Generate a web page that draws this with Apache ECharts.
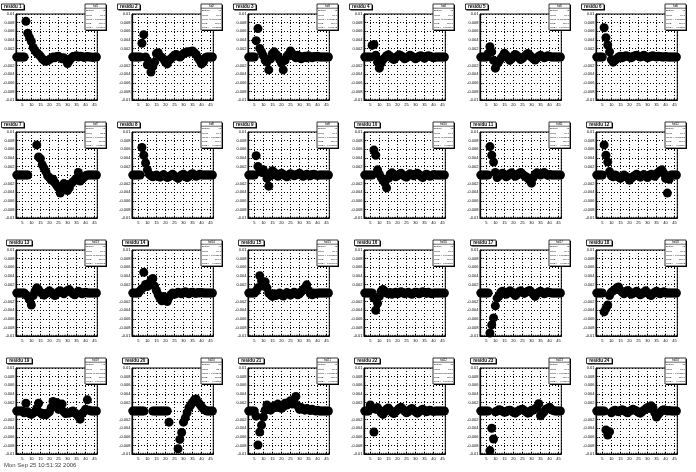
<!DOCTYPE html>
<html><head><meta charset="utf-8">
<script src="https://cdn.jsdelivr.net/npm/echarts@6/dist/echarts.min.js"></script>
<style>html,body{margin:0;padding:0;background:#fff}#c{width:696px;height:472px}</style>
</head><body><div id="c"></div>
<script>
// x positions shared by all pads
const xValues = [2,3,4,5,6,7,8,9,10,11,12,13,14,15,16,17,18,19,20,21,22,23,24,25,26,27,28,29,30,31,32,33,34,35,36,37,38,39,40,41,42,43,44,45,46];
const xTickLabels = ['5','10','15','20','25','30','35','40','45'];
const yTickLabels = ['0.01','0.008','0.006','0.004','0.002','0','-0.002','-0.004','-0.006','-0.008','-0.01'];

const residu1 = [0,0,0,0,0,0.0083,0.0055,0.0045,0.0036,0.0022,0.0015,0.001,0.0006,0.0002,-0.0004,-0.0008,-0.001,-0.0009,-0.0006,-0.0003,0,-0.0002,0.0001,0.0002,-0.0001,-0.0004,-0.0002,-0.0006,-0.0015,-0.0009,-0.0003,0.0001,0.0002,0.0003,0,0.0002,0.0001,-0.0001,0,0.0001,0,0,-0.0001,0,0];
const residu2 = [0,0,0,0,0,0.0032,0.0052,0,-0.0018,-0.0012,-0.0035,-0.0022,-0.0012,0.0008,0.001,0.0002,-0.0001,-0.0005,-0.0012,-0.0016,-0.0008,-0.0004,0,0.0004,0.0006,0.0002,0,0.0004,0.0008,0.001,0.0012,0.0011,0.0013,0.0014,0.001,0.0006,-0.0002,-0.0008,-0.0016,-0.0012,-0.0002,0,0,0,0];
const residu3 = [0,0,0,0,0.0038,0.0066,0.002,0.0012,0.0003,-0.0008,-0.0012,-0.003,-0.0004,0.0008,0.0012,0.0006,0.0002,-0.0006,-0.0014,-0.003,-0.0008,0.0002,0.0006,0.0014,0.0008,0.0002,-0.0002,0.0004,0.0002,-0.0004,0,0.0002,-0.0002,0.0003,0,-0.0002,0.0001,0,0.0002,0,0,0,0,0,0];
const residu4 = [0,0,0,0,0.0027,0.0029,0.0004,-0.0012,-0.0026,-0.0014,-0.0006,-0.0002,0.0003,0.0005,0.0002,-0.0003,-0.0006,-0.0002,0.0002,0.0005,0.0003,0,-0.0004,-0.0002,0.0001,0.0004,0.0002,-0.0001,-0.0004,-0.0002,0.0002,0.0003,0,-0.0003,0.0001,0.0003,0.0002,0,-0.0002,0,0,0,0,0,0];
const residu5 = [0,0,0,0,0.0008,0.0024,0.0012,-0.0008,-0.0026,-0.0016,-0.001,-0.0004,0.0002,0.0009,0.0004,-0.0002,-0.0008,-0.0004,0.0002,0.0006,0.0003,-0.0002,-0.0006,-0.0003,0.0001,0.0005,0.0008,0.0004,0,-0.0004,-0.0007,-0.0003,0.0002,0.0004,0.0001,-0.0002,0,0.0003,0.0001,0,0,0,0,0,0];
const residu6 = [0,0,0,0,0.0068,0.0045,0.0028,0.0012,-0.0006,-0.0012,-0.0008,-0.0004,0,0.0002,-0.0002,0.0001,0.0003,0.0002,0,-0.0002,0.0001,0.0003,0.0004,0.0002,0,0.0002,0.0004,0.0001,-0.0002,0,0.0002,0.0003,0.0001,0,0.0002,0.0001,0,0,0.0001,0,0,0,0,0,0];
const residu7 = [0,0,0,0,0,0,0,null,null,null,null,0.007,0.0042,0.0038,0.0024,0.0016,0.0008,-0.0002,-0.0006,-0.0012,-0.001,-0.0018,-0.0024,-0.003,-0.0042,-0.0028,-0.002,-0.0026,-0.0036,-0.003,-0.002,-0.0016,-0.0012,-0.0008,0.0006,-0.0014,-0.001,-0.0006,-0.0002,0,0,0,0,0,0];
const residu8 = [0,0,0,0,0,0.0064,0.0046,0.0028,0.0012,0.0002,-0.0002,-0.0004,-0.0002,0,-0.0003,-0.0005,-0.0002,0.0001,-0.0003,-0.0006,-0.0004,-0.0001,0.0002,-0.0002,-0.0005,-0.0008,-0.0004,0,0.0002,-0.0002,-0.0006,-0.0003,0.0001,0.0003,0,-0.0003,-0.0001,0.0002,0,0,0,0,0,0,0];
const residu9 = [0,0,0,0,0.0045,0.002,0.0008,0.0006,0.0012,0.0004,-0.0008,-0.0026,-0.0002,0.001,0.0006,0.0002,-0.0003,0,0.0004,0.0002,-0.0002,-0.0004,0,0.0003,0.0001,-0.0002,0,0.0002,0.0004,0.0001,-0.0003,-0.0001,0.0002,0,-0.0002,0.0001,0.0002,0,-0.0001,0,0,0,0,0,0];
const residu10 = [0,0,0,0,0,0.0058,0.0046,0.0012,0.0002,-0.0006,-0.0012,-0.0018,-0.003,-0.0008,0.0002,0.0005,0.0001,-0.0004,-0.0002,0.0002,0.0004,0,-0.0003,-0.0005,-0.0001,0.0003,0.0001,-0.0002,0.0002,0.0004,0.0001,-0.0003,-0.0006,-0.0002,0.0002,0,-0.0003,-0.0001,0.0001,0,0,0,0,0,0];
const residu11 = [0,0,0,0,0,0.0066,0.0046,0.003,0.0006,-0.0006,-0.0002,0.0002,0.0004,0,-0.0004,-0.0002,0.0003,0.0005,0.0001,-0.0003,0,0.0003,0.0006,0.0002,-0.0002,-0.0004,-0.0008,-0.0012,-0.0019,-0.0006,0.0002,0.0005,0.0003,0,0.0003,0.0006,0.0002,-0.0001,0.0001,0,0,0,0,0,0];
const residu12 = [0,0,0,0,0.007,0.0046,0.003,0.0008,-0.0002,-0.0004,0,-0.0002,-0.0005,-0.0008,-0.0004,0,-0.0003,-0.0006,-0.0012,-0.0008,-0.0004,-0.0001,0.0002,-0.0002,-0.0005,-0.0002,0.0001,-0.0003,-0.0006,-0.0002,0.0002,0,-0.0003,0.0002,0.0006,0.001,0.0012,0.0004,-0.0008,-0.0042,-0.001,0,0,0,0];
const residu13 = [0,0,0,0,0,-0.0004,-0.0008,-0.0016,-0.0028,-0.0006,0.0004,0.0012,0.0008,0.0002,-0.0002,-0.0005,-0.0002,0.0002,0.0005,0.0002,-0.0003,-0.0006,-0.0002,0.0003,0.0005,0.0001,-0.0002,0.0002,0.0006,0.0008,0.0003,-0.0002,-0.0004,0,0.0004,0.0002,-0.0002,0,0.0002,0,0,0,0,0,0];
const residu14 = [0,0,0,0,0.0005,0.001,0.0048,0.002,0.0015,0.0022,0.003,0.0034,0.0016,0.0006,-0.0004,-0.0012,-0.0018,-0.0008,-0.0014,-0.002,-0.001,-0.0004,0,-0.0003,-0.0001,0.0002,0,-0.0002,0.0001,0.0003,0,-0.0002,0.0001,0.0002,0,-0.0001,0.0001,0,0.0001,0,0,0,0,0,0];
const residu15 = [0,0,0,0,0.0004,0.0012,0.004,0.0028,0.0016,0.0026,0.0012,0,-0.0004,-0.0008,-0.0002,-0.0006,-0.0003,0,-0.0004,-0.0007,-0.0003,0.0001,-0.0002,-0.0005,-0.0002,0.0002,0,-0.0004,-0.0002,0.0003,0.0008,0.0012,0.0019,0.0006,-0.0002,-0.0004,0,-0.0002,0,0,0,0,0,0,0];
const residu16 = [0,0,0,0,0,-0.0012,-0.004,-0.0024,-0.0008,0.0004,0.0008,0.0004,0,-0.0002,0.0001,-0.0003,0,0.0002,-0.0002,0,0.0003,0.0001,-0.0002,0,0.0002,-0.0001,-0.0003,0,0.0002,0.0001,-0.0002,0,0.0003,0.0001,-0.0001,0.0002,0,-0.0002,0,0,0,0,0,0,0];
const residu17 = [0,0,0,0,0,-0.0093,-0.0074,-0.0058,-0.003,-0.0012,-0.0007,0.0002,0.0004,0.0001,-0.0003,0.0002,0.0005,0.0003,-0.0002,-0.0006,-0.0002,0.0003,0.0005,0.0002,-0.0001,0.0002,0.0004,0.0006,0.0002,-0.0003,-0.0008,-0.0002,0.0002,0.0004,0.0001,-0.0002,0,0.0003,0.0001,0,0,0,0,0,0];
const residu18 = [0,0,0,0,-0.0044,-0.0036,-0.0028,-0.0006,0.0002,0.0005,0.0008,0.0012,0.0014,0.0006,0.0002,-0.0002,0.0003,0.0006,0.0002,-0.0003,-0.0001,0.0002,0.0004,0,-0.0004,-0.0002,0.0002,0.0005,0.0001,-0.0003,-0.0006,-0.0002,0.0002,0.0004,0,-0.0002,0.0001,0.0003,0,0,0,0,0,0,0];
const residu19 = [0,0,0,0,-0.0004,0.0018,-0.0002,-0.0006,-0.0008,-0.0005,-0.0002,0.0006,0.0018,-0.0004,-0.0008,-0.0006,-0.0009,-0.0005,-0.0002,0.0008,0.0022,0.0012,0.002,0.0004,0.0008,0.0016,-0.0002,-0.0006,-0.0004,-0.0005,-0.0002,0,-0.0004,-0.0008,-0.0012,-0.0019,-0.0006,-0.0002,0.0004,0.0026,0.0002,0,0,0,0];
const residu20 = [0,0,0,0,0,0,0,null,null,null,null,0,0,0,0,0,0,0,0,0,-0.0026,null,null,null,null,-0.0088,-0.0066,-0.005,-0.0026,-0.0016,-0.0004,0.0008,0.0014,0.002,0.0026,0.0028,0.002,0.0016,0.001,0.0005,0.0002,0,0,0,0];
const residu21 = [0,0,0,0,-0.0012,-0.0079,-0.0049,-0.0033,-0.0014,0.0002,0.0014,0.0008,0.0002,0.0006,0.0012,0.0008,0.0016,0.0012,0.0006,0.001,0.0018,0.0014,0.002,0.0024,0.0016,0.0026,0.0034,0.0012,0.0004,0.0008,0.0004,0.0002,0.0006,0.0003,0.0001,0.0004,0.0002,0,0.0002,0,0,0,0,0,0];
const residu22 = [0,0,0,0.0014,0.0006,-0.0049,0.0004,0.0008,0.0002,-0.0004,-0.0008,-0.0002,0.0004,0.0007,0.0002,-0.0003,-0.0006,-0.0002,0.0002,0.0006,0.0009,0.0004,0,-0.0004,-0.0002,0.0003,0.0006,0.0002,-0.0002,-0.0005,-0.0002,0.0002,0.0004,0.0001,-0.0002,0,0.0002,0,-0.0001,0,0,0,0,0,0];
const residu23 = [0,0,0,0,0,-0.0092,-0.004,-0.0065,-0.0002,0,0.0003,0.0002,-0.0001,-0.0003,-0.0002,0.0001,0.0002,0,-0.0003,-0.0005,-0.0002,0.0001,0.0003,0.0004,0.0001,-0.0002,-0.0005,-0.0003,0.0002,0.0002,0.0005,0.0008,0.0017,-0.0011,-0.0006,-0.0002,0.0004,0.0006,0.0009,0.0004,0.0001,0,0,0,0];
const residu24 = [0,0,0,0,0,-0.0044,-0.0056,-0.0048,-0.0004,0,0.0002,0,-0.0002,0.0001,0.0003,0.0001,-0.0002,-0.0004,-0.0001,0.0002,0.0004,0.0002,0,-0.0003,-0.0005,-0.0002,0.0002,0.0005,0.0008,0.0006,0.0012,0.0008,-0.0004,-0.0014,-0.0008,-0.0003,0.0001,0.0003,0.0002,0,0.0001,0,0,0,0];

const panels = [residu1,residu2,residu3,residu4,residu5,residu6,residu7,residu8,residu9,residu10,residu11,residu12,
                residu13,residu14,residu15,residu16,residu17,residu18,residu19,residu20,residu21,residu22,residu23,residu24];
const panelTitles = panels.map((_, i) => 'residu ' + (i + 1));
const histNames = panels.map((_, i) => 'hd' + (i + 1));
const statLabels = ['Entries', 'Mean', 'Mean y', 'RMS', 'RMS y'];
const dateStamp = 'Mon Sep 25 10:51:32 2006';

// layout (pixels)
const PW = 116, PH = 118, FL = 16, FT = 14, FW = 81.3, FH = 86;
const FONT = 'Liberation Sans, Arial, sans-serif';

const grids = [], xAxes = [], yAxes = [], series = [], graphics = [];

function fmtY(v) {
  if (Math.abs(v) < 1e-12) return '0';
  return String(Math.round(v * 1000) / 1000);
}
function stats(vals) {
  const pts = [];
  vals.forEach((v, k) => { if (v !== null) pts.push([xValues[k], v]); });
  const n = pts.length;
  const mx = pts.reduce((s, p) => s + p[0], 0) / n;
  const my = pts.reduce((s, p) => s + p[1], 0) / n;
  const rx = Math.sqrt(pts.reduce((s, p) => s + (p[0] - mx) ** 2, 0) / n);
  const ry = Math.sqrt(pts.reduce((s, p) => s + (p[1] - my) ** 2, 0) / n);
  return [String(n), mx.toFixed(1), my.toPrecision(3), rx.toFixed(2), ry.toPrecision(3)];
}

panels.forEach((vals, i) => {
  const c = i % 6, r = Math.floor(i / 6);
  const ox = c * PW, oy = r * PH;
  grids.push({ left: ox + FL, top: oy + FT, width: FW, height: FH, show: true,
    borderColor: '#000', borderWidth: 1, backgroundColor: '#fff' });
  const tickCommon = {
    axisTick: { show: true, inside: true, length: 2.4, lineStyle: { color: '#000', width: 0.8 } },
    minorTick: { show: true, splitNumber: 5, length: 1.2, lineStyle: { color: '#000', width: 0.6 } },
    splitLine: { show: true, lineStyle: { color: '#000', width: 1, type: [1, 2] } }
  };
  xAxes.push(Object.assign({
    gridIndex: i, type: 'value', min: 1.5, max: 46.5, splitNumber: 9,
    axisLine: { show: true, onZero: false, lineStyle: { color: '#000', width: 1.2 } },
    axisLabel: { showMinLabel: false, showMaxLabel: false, fontSize: 4, color: '#000', margin: 2.5, fontFamily: FONT,
      formatter: v => { const s = String(v); return xTickLabels.indexOf(s) >= 0 ? s : ''; } }
  }, tickCommon));
  yAxes.push(Object.assign({
    gridIndex: i, type: 'value', min: -0.01, max: 0.01, interval: 0.002,
    axisLine: { show: true, onZero: false, lineStyle: { color: '#000', width: 1.2 } },
    axisLabel: { fontSize: 4, color: '#000', margin: 1.5, fontFamily: FONT,
      formatter: v => { const s = fmtY(v); return yTickLabels.indexOf(s) >= 0 ? s : ''; } }
  }, tickCommon));
  const data = [];
  vals.forEach((v, k) => { if (v !== null) data.push([xValues[k], v]); });
  series.push({ type: 'scatter', xAxisIndex: i, yAxisIndex: i, data: data, clip: false,
    symbol: 'circle', symbolSize: 9, itemStyle: { color: '#000', opacity: 1 }, silent: true, z: 3 });

  // title box
  const tx = (i + 1) < 10 ? 1.5 : 6.5, tw = (i + 1) < 10 ? 22.5 : 25.5;
  graphics.push({ type: 'rect', shape: { x: ox + tx + 1, y: oy + 5, width: tw, height: 5.5 }, style: { fill: '#000' }, z: 10 });
  graphics.push({ type: 'rect', shape: { x: ox + tx, y: oy + 4, width: tw, height: 5.5 }, style: { fill: '#fff', stroke: '#000', lineWidth: 0.8 }, z: 11 });
  graphics.push({ type: 'text', x: ox + tx + tw / 2, y: oy + 6.9, style: { text: panelTitles[i], font: 'bold 4.6px ' + FONT, fill: '#000', align: 'center', verticalAlign: 'middle' }, z: 12 });

  // stats box
  const sx = ox + 85, sy = oy + 4, sw = 21, sh = 26;
  graphics.push({ type: 'rect', shape: { x: sx + 1, y: sy + 1, width: sw, height: sh }, style: { fill: '#000' }, z: 10 });
  graphics.push({ type: 'rect', shape: { x: sx, y: sy, width: sw, height: sh }, style: { fill: '#fff', stroke: '#000', lineWidth: 0.8 }, z: 11 });
  graphics.push({ type: 'line', shape: { x1: sx, y1: sy + 4.2, x2: sx + sw, y2: sy + 4.2 }, style: { stroke: '#000', lineWidth: 0.6 }, z: 12 });
  graphics.push({ type: 'text', x: sx + sw / 2, y: sy + 2.2, style: { text: histNames[i], font: '3px ' + FONT, fill: '#000', align: 'center', verticalAlign: 'middle' }, z: 12 });
  const sv = stats(vals);
  statLabels.forEach((lab, k) => {
    const yy = sy + 6.6 + k * 4.3;
    graphics.push({ type: 'text', x: sx + 1, y: yy, style: { text: lab, font: '2.4px ' + FONT, fill: '#000', align: 'left', verticalAlign: 'middle' }, z: 12 });
    graphics.push({ type: 'text', x: sx + sw - 1, y: yy, style: { text: sv[k], font: '2.4px ' + FONT, fill: '#000', align: 'right', verticalAlign: 'middle' }, z: 12 });
  });
});

graphics.push({ type: 'text', x: 4, y: 465, style: { text: dateStamp, font: '6px ' + FONT, fill: '#444', align: 'left', verticalAlign: 'middle' }, z: 12 });

const chart = echarts.init(document.getElementById('c'), null, { renderer: 'canvas', width: 696, height: 472 });
chart.setOption({
  animation: false,
  backgroundColor: '#fff',
  grid: grids, xAxis: xAxes, yAxis: yAxes, series: series, graphic: graphics
});
</script>
</body></html>
